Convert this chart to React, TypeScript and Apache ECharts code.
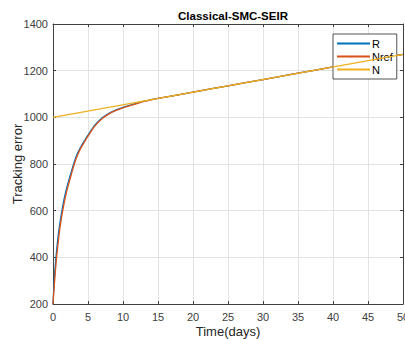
import React, { useEffect, useRef } from "react";
import * as echarts from "echarts";

const days = [0, 0.25, 0.5, 0.75, 1, 1.5, 2, 2.5, 3, 3.5, 4, 4.5, 5, 6, 7, 8, 9, 10, 11, 12, 13, 14, 15, 20, 25, 30, 35, 40, 45, 50];
const rValues = [200, 335, 425, 495, 550, 638, 703, 755, 806, 846, 875, 900, 924, 967, 997, 1017, 1032, 1043, 1052, 1061, 1069, 1076, 1081, 1108, 1135, 1162, 1189, 1216, 1243, 1270];
const nrefValues = [200, 305, 395, 465, 528, 618, 688, 742, 796, 838, 869, 895, 919, 963, 994, 1015, 1030, 1041, 1050, 1059, 1068, 1075, 1081, 1108, 1135, 1162, 1189, 1216, 1243, 1270];
const nDays = [0, 50];
const nValues = [1000, 1270];

const FONT = "'Liberation Sans', Arial, Helvetica, sans-serif";
const AXIS = "#404040";

export default function App() {
  const ref = useRef<HTMLDivElement>(null);
  useEffect(() => {
    const chart = echarts.init(ref.current!, null, { renderer: "svg" });
    const pair = (xs: number[], ys: number[]) => xs.map((x, i) => [x, ys[i]]);
    const fmt = (v: number) => String(v);
    chart.setOption({
      animation: false,
      backgroundColor: "#fff",
      textStyle: { fontFamily: FONT },
      title: {
        text: "Classical-SMC-SEIR",
        left: 228,
        textAlign: "center",
        top: 5,
        textStyle: { fontSize: 11.5, fontWeight: "bold", color: "#000", fontFamily: FONT },
      },
      legend: {
        orient: "vertical",
        left: 333,
        top: 34,
        itemWidth: 33,
        itemHeight: 2,
        itemGap: 2,
        icon: "rect",
        padding: [4, 4, 4, 4],
        backgroundColor: "#fff",
        borderColor: "#262626",
        borderWidth: 0.8,
        borderRadius: 0,
        textStyle: { fontSize: 11, color: "#000", fontFamily: FONT, padding: [0, 0, 0, -3] },
        data: ["R", "Nref", "N"],
      },
      grid: { left: 53, right: 2, top: 24, bottom: 35, containLabel: false, outerBoundsMode: "none" },
      xAxis: [
        {
          type: "value",
          min: 0,
          max: 50,
          interval: 5,
          name: "Time(days)",
          nameLocation: "middle",
          nameGap: 21,
          nameMoveOverlap: false,
          nameTextStyle: { fontSize: 13, color: "#262626", fontFamily: FONT },
          axisLine: { show: true, lineStyle: { color: AXIS, width: 1 } },
          axisTick: { show: true, inside: true, length: 3, lineStyle: { color: AXIS } },
          axisLabel: { fontSize: 11, color: AXIS, margin: 7, fontFamily: FONT, formatter: fmt, hideOverlap: false },
          splitLine: { show: true, lineStyle: { color: "#e3e3e3", width: 1 } },
        },
        {
          type: "value",
          position: "top",
          min: 0,
          max: 50,
          interval: 5,
          axisLine: { show: true, onZero: false, lineStyle: { color: AXIS, width: 1 } },
          axisTick: { show: true, inside: true, length: 3, lineStyle: { color: AXIS } },
          axisLabel: { show: false },
          splitLine: { show: false },
        },
      ],
      yAxis: [
        {
          type: "value",
          min: 200,
          max: 1400,
          interval: 200,
          name: "Tracking error",
          nameLocation: "middle",
          nameGap: 29,
          nameMoveOverlap: false,
          nameTextStyle: { fontSize: 13, color: "#262626", fontFamily: FONT },
          axisLine: { show: true, lineStyle: { color: AXIS, width: 1 } },
          axisTick: { show: true, inside: true, length: 3, lineStyle: { color: AXIS } },
          axisLabel: { fontSize: 11, color: AXIS, margin: 5, fontFamily: FONT, formatter: fmt },
          splitLine: { show: true, lineStyle: { color: "#e3e3e3", width: 1 } },
        },
        {
          type: "value",
          position: "right",
          min: 200,
          max: 1400,
          interval: 200,
          axisLine: { show: true, onZero: false, lineStyle: { color: AXIS, width: 1 } },
          axisTick: { show: true, inside: true, length: 3, lineStyle: { color: AXIS } },
          axisLabel: { show: false },
          splitLine: { show: false },
        },
      ],
      series: [
        {
          name: "R",
          type: "line",
          data: pair(days, rValues),
          smooth: 0.3,
          symbol: "none",
          lineStyle: { color: "#0072BD", width: 1.3 },
          itemStyle: { color: "#0072BD" },
          z: 2,
        },
        {
          name: "Nref",
          type: "line",
          data: pair(days, nrefValues),
          smooth: 0.3,
          symbol: "none",
          lineStyle: { color: "#D95319", width: 1.3 },
          itemStyle: { color: "#D95319" },
          z: 3,
        },
        {
          name: "N",
          type: "line",
          data: pair(nDays, nValues),
          symbol: "none",
          lineStyle: { color: "#EDB120", width: 1.3 },
          itemStyle: { color: "#EDB120" },
          z: 4,
        },
      ],
    });
    return () => chart.dispose();
  }, []);
  return <div ref={ref} style={{ width: 405, height: 339, position: "absolute", left: 0, top: 0 }} />;
}
